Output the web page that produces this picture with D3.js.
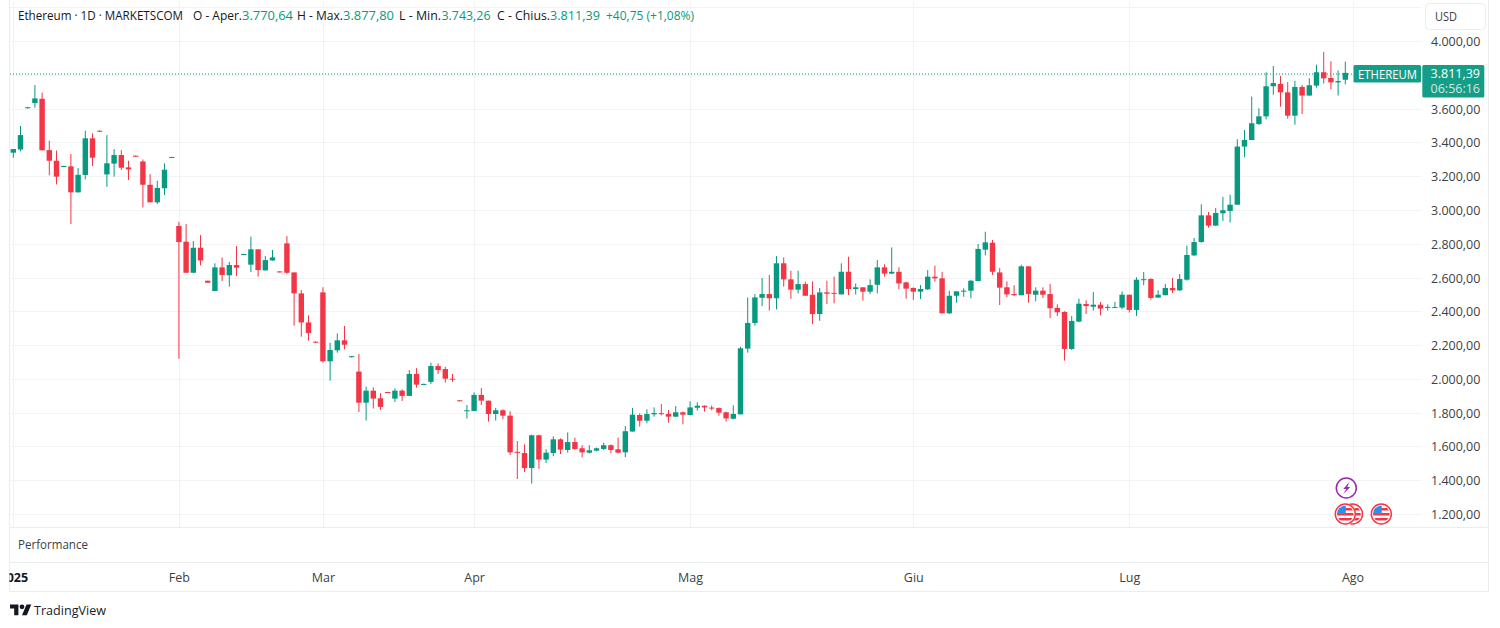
<!DOCTYPE html>
<html><head><meta charset="utf-8">
<script src="https://cdn.jsdelivr.net/npm/d3@7"></script>
<style>
html,body{margin:0;padding:0;background:#fff;overflow:hidden}
svg{display:block}
text{font-family:"Open Sans","Noto Sans",sans-serif}
</style></head><body><svg id="c" width="1500" height="628"></svg>
<script>
const opens=[3339,3358,3602,3633,3658,3354,3291,3256,3258,3104,3207,3424,3469,3210,3274,3325,3252,3321,3287,3149,3045,3128,3313,
2905,2812,2628,2776,2581,2520,2660,2613,2674,2735,2676,2767,2642,2701,2636,2802,2630,2506,2334,2220,2512,2104,2169,2228,2128,
2043,1859,1930,1885,1922,1883,1930,1899,2029,1966,1982,2076,2058,2001,1873,1810,1810,1905,1871,1792,1814,1782,1568,1561,1472,1666,1522,1561,1642,1579,1626,1589,1563,1575,1585,1607,1583,1565,1688,
1786,1752,1790,1797,1792,1776,1802,1786,1829,1841,1830,1827,1802,1764,1790,2179,2331,2480,2502,2477,2684,2589,2528,2561,2498,2384,2512,2509,2500,2634,2532,2542,2516,2557,2660,2623,2634,2571,2538,2516,2530,2605,2595,2388,2492,2516,2522,2579,2765,2806,2630,
2542,2502,2495,2666,2498,2522,2502,2420,2396,2177,2339,2443,2427,2439,2424,2422,2422,2498,2408,2588,2591,2481,2495,2538,2524,2587,2731,2810,2968,2907,2980,2994,3031,3375,3414,3509,3554,3732,3746,3696,3558,3728,3677,3736,3815,3781,3755,3770.64];
const highs=[3360,3497,3610,3739,3694,3410,3351,3262,3331,3248,3469,3453,3471,3443,3360,3354,3291,3323,3299,3212,3173,3276,3315,
2930,2916,2816,2851,2581,2684,2719,2692,2786,2741,2842,2767,2727,2763,2638,2845,2630,2526,2376,2222,2542,2214,2269,2313,2136,
2147,1954,1950,1915,1924,1944,1938,2052,2063,1972,2096,2092,2072,2029,1875,1845,1920,1946,1871,1828,1820,1808,1632,1612,1670,1670,1583,1660,1648,1683,1652,1607,1607,1593,1622,1612,1652,1721,1828,
1796,1820,1831,1851,1816,1839,1806,1867,1861,1843,1843,1831,1806,1843,2190,2482,2502,2597,2615,2727,2719,2640,2640,2575,2577,2538,2581,2605,2684,2723,2565,2542,2589,2703,2678,2778,2660,2575,2542,2555,2644,2670,2634,2522,2518,2536,2585,2798,2871,2822,2656,
2577,2554,2676,2666,2542,2542,2562,2441,2400,2372,2475,2465,2514,2455,2441,2455,2518,2498,2601,2633,2595,2524,2562,2597,2621,2789,2834,3033,2988,3011,3077,3090,3418,3473,3671,3602,3815,3852,3793,3757,3765,3740,3779,3860,3935,3880,3826,3877.80];
const lows=[3309,3347,3600,3605,3353,3205,3151,3254,2916,3104,3181,3260,3463,3137,3197,3236,3177,3315,3015,3045,3035,3088,3307,
2119,2628,2628,2672,2569,2520,2579,2546,2609,2733,2632,2605,2642,2699,2630,2620,2315,2250,2226,2214,2096,1989,2155,2175,2126,
1804,1753,1824,1816,1916,1863,1869,1899,1948,1964,1970,2029,1978,1982,1867,1765,1810,1845,1747,1753,1761,1549,1407,1448,1380,1467,1502,1542,1555,1563,1579,1536,1559,1571,1579,1559,1559,1536,1688,
1717,1737,1776,1784,1741,1776,1731,1784,1812,1806,1814,1782,1747,1760,1790,2155,2315,2431,2404,2411,2546,2475,2506,2490,2325,2344,2443,2447,2500,2496,2500,2463,2502,2506,2605,2621,2530,2475,2467,2473,2526,2575,2388,2384,2451,2486,2477,2579,2731,2615,2437,
2483,2491,2495,2451,2459,2479,2360,2372,2108,2171,2335,2384,2404,2376,2404,2421,2412,2392,2372,2554,2469,2481,2495,2508,2520,2581,2727,2806,2895,2907,2935,2925,3031,3312,3414,3503,3536,3682,3611,3540,3505,3568,3677,3724,3748,3714,3677,3743.26];
const closes=[3360,3443,3608,3660,3353,3291,3197,3260,3104,3208,3424,3309,3465,3276,3325,3250,3240,3317,3149,3045,3130,3238,3309,
2810,2628,2776,2701,2569,2660,2615,2674,2658,2739,2767,2644,2703,2719,2632,2628,2506,2334,2271,2216,2104,2171,2228,2202,2134,
1859,1930,1883,1834,1918,1930,1899,2029,1966,1970,2076,2052,2001,1999,1869,1814,1905,1871,1792,1814,1782,1565,1566,1472,1666,1522,1563,1642,1581,1626,1585,1565,1577,1589,1607,1579,1563,1690,1788,
1752,1792,1798,1795,1776,1802,1788,1831,1841,1831,1828,1800,1766,1792,2181,2331,2482,2502,2477,2684,2589,2528,2561,2492,2384,2512,2504,2507,2634,2532,2542,2516,2555,2660,2623,2634,2565,2534,2516,2532,2605,2595,2388,2492,2518,2522,2581,2769,2808,2634,2540,
2500,2495,2666,2502,2522,2498,2418,2394,2177,2343,2445,2431,2439,2416,2426,2425,2498,2408,2587,2590,2479,2498,2538,2524,2591,2733,2810,2968,2907,2982,2998,3031,3375,3414,3513,3554,3732,3751,3696,3558,3728,3677,3738,3815,3779,3755,3763,3811.39];

const priceTicks=[1200,1400,1600,1800,2000,2200,2400,2600,2800,3000,3200,3400,3600,3800,4000,4200];
const priceLabels=[1200,1400,1600,1800,2000,2200,2400,2600,2800,3000,3200,3400,3600,4000];
const timeIdx=[0,23,43,64,94,125,155,186];
const timeLabels=["2025","Feb","Mar","Apr","Mag","Giu","Lug","Ago"];
const lastClose=3811.39, countdown="06:56:16", instrument="ETHEREUM";
const eventIdx=[190,186,185];
const lightningIdx=[185];

const W=1500,H=628;
const svg=d3.select("#c");
const x=d3.scaleLinear().domain([0,186]).range([13.3,1352.5]);
const y=d3.scaleLinear().domain([1200,4000]).range([514,41]);
const loc=d3.formatLocale({decimal:",",thousands:".",grouping:[3],currency:["",""]});
const fmt=loc.format(",.2f");
const GREEN="#089981",RED="#f23645",GRID="#f3f3f4",BORDER="#ebecee",TXT="#131722",AX="#3d3f45";
const L=9.5,AXL=1421.5,R=1488.5,PB=527.5,TT=562.5,TB=591.5;

svg.append("rect").attr("width",W).attr("height",H).attr("fill","#fff");
const defs=svg.append("defs");
defs.append("clipPath").attr("id","plot").append("rect").attr("x",L).attr("y",1).attr("width",AXL-L).attr("height",PB-1);
defs.append("clipPath").attr("id","tim").append("rect").attr("x",L).attr("y",TT).attr("width",R-L).attr("height",TB-TT);

// grid
const grid=svg.append("g").attr("clip-path","url(#plot)");
grid.selectAll(".h").data(priceTicks).join("line").attr("x1",L).attr("x2",AXL)
 .attr("y1",d=>Math.round(y(d))+.5).attr("y2",d=>Math.round(y(d))+.5).attr("stroke",GRID);
grid.selectAll(".v").data(timeIdx).join("line").attr("y1",1).attr("y2",PB)
 .attr("x1",d=>Math.round(x(d))+.5).attr("x2",d=>Math.round(x(d))+.5).attr("stroke",GRID);

// frame
const fr=svg.append("g").attr("stroke",BORDER).attr("fill","none");
[[L,0,L,TB],[R,0,R,TB],[L,PB,R,PB],[L,TT,R,TT],[L,TB,R,TB]].forEach(l=>
 fr.append("line").attr("x1",l[0]).attr("y1",l[1]).attr("x2",l[2]).attr("y2",l[3]));

// price line
svg.append("line").attr("x1",10).attr("x2",1353).attr("y1",74).attr("y2",74)
 .attr("stroke",GREEN).attr("stroke-width",1.4).attr("stroke-dasharray","1 2").attr("stroke-opacity",.7);

// candles
const n=opens.length;
const c=svg.append("g").attr("clip-path","url(#plot)").selectAll("g").data(d3.range(n)).join("g")
 .attr("fill",i=>closes[i]>=opens[i]?GREEN:RED);
c.append("rect").attr("x",i=>x(i)-.5).attr("width",1)
 .attr("y",i=>y(highs[i])).attr("height",i=>y(lows[i])-y(highs[i]));
c.append("rect").attr("x",i=>x(i)-2.7).attr("width",5.4)
 .attr("y",i=>y(Math.max(opens[i],closes[i])))
 .attr("height",i=>Math.max(1,Math.abs(y(opens[i])-y(closes[i]))));

// y axis
const yAxis=d3.axisRight(y).tickValues(priceLabels).tickFormat(d=>fmt(d)).tickSize(0).tickPadding(0);
const yg=svg.append("g").attr("transform","translate(1431,0)").call(yAxis);
yg.select(".domain").remove();
yg.selectAll("text").attr("fill",AX).style("font-size","12.5px").attr("dy","0.36em");

// x axis
const xAxis=d3.axisBottom(x).tickValues(timeIdx).tickFormat((d,i)=>timeLabels[i]).tickSize(0).tickPadding(0);
const xg=svg.append("g").attr("clip-path","url(#tim)");
const xgi=xg.append("g").attr("transform","translate(0,581.5)").call(xAxis);
xgi.select(".domain").remove();
xgi.selectAll("text").attr("dy",0).attr("fill",AX).style("font-size","12.5px");
xgi.selectAll("text").filter((d,i)=>i===0).style("font-weight","700").attr("fill",TXT);

// header
const hp=[["Ethereum · 1D · MARKETSCOM",18,165,TXT],["O - Aper.",193,49,TXT],["3.770,64",242,51,GREEN],["H - Max.",297,46,TXT],["3.877,80",343,51,GREEN],["L - Min.",399,42,TXT],["3.743,26",441.5,49,GREEN],["C - Chius.",497,53,TXT],["3.811,39",550,50,GREEN],["+40,75 (+1,08%)",606,88,GREEN]];
svg.append("g").selectAll("text").data(hp).join("text").text(d=>d[0]).attr("x",d=>d[1]).attr("y",20)
 .attr("textLength",d=>d[2]).attr("lengthAdjust","spacingAndGlyphs").attr("fill",d=>d[3]).style("font-size","12.5px");

svg.append("text").attr("x",18).attr("y",548.5).text("Performance").attr("textLength",70).attr("lengthAdjust","spacingAndGlyphs").style("font-size","13px").attr("fill",AX);

// USD button
svg.append("rect").attr("x",1425.5).attr("y",3.5).attr("width",60).attr("height",26).attr("rx",4).attr("fill","#fff").attr("stroke",BORDER);
svg.append("text").attr("x",1435).attr("y",20.5).text("USD").attr("textLength",22).attr("lengthAdjust","spacingAndGlyphs").style("font-size","12.5px").attr("fill",AX);

// badges
svg.append("rect").attr("x",1353.5).attr("y",65).attr("width",67.5).attr("height",17.5).attr("rx",1.5).attr("fill",GREEN).attr("fill-opacity",.95);
svg.append("text").attr("x",1358).attr("y",79).text(instrument).attr("textLength",59).attr("lengthAdjust","spacingAndGlyphs").style("font-size","12.5px").attr("fill","#fff");
svg.append("rect").attr("x",1422.3).attr("y",65).attr("width",62).attr("height",32.5).attr("rx",1.5).attr("fill",GREEN).attr("fill-opacity",.95);
svg.append("text").attr("x",1480).attr("y",77.5).attr("text-anchor","end").text(fmt(lastClose)).style("font-size","12.5px").attr("fill","#fff");
svg.append("text").attr("x",1480).attr("y",92.5).attr("text-anchor","end").text(countdown).style("font-size","12.5px").attr("fill","#cfe9e3");

// events
const ev=svg.append("g");
lightningIdx.forEach(idx=>{
 ev.append("circle").attr("cx",x(idx)+1).attr("cy",488).attr("r",10).attr("fill","#fff").attr("stroke","#9c27b0").attr("stroke-width",1.5);
 ev.append("path").attr("transform",`translate(${x(idx)+1},488)`).attr("d","M3 -6 L-3 1 L0 1 L-3 6 L4 -1 L1 -1 Z").attr("fill","#9c27b0");
});
eventIdx.forEach((idx,k)=>{
 const g=ev.append("g").attr("transform",`translate(${x(idx)},514)`);
 const id="fl"+k;
 defs.append("clipPath").attr("id",id).append("circle").attr("r",8.3);
 g.append("circle").attr("r",10.8).attr("fill","#fff");
 const f=g.append("g").attr("clip-path",`url(#${id})`);
 f.append("rect").attr("x",-9).attr("y",-9).attr("width",18).attr("height",18).attr("fill","#fff");
 [-6,-1,4].forEach(s=>f.append("rect").attr("x",-9).attr("y",s).attr("width",18).attr("height",2.5).attr("fill",RED));
 f.append("rect").attr("x",-9).attr("y",-9).attr("width",9.5).attr("height",9).attr("fill","#2e8ef0");
 g.append("circle").attr("r",10).attr("fill","none").attr("stroke",RED).attr("stroke-width",1.5);
});

// logo
const logo=svg.append("g").attr("transform","translate(10,602) scale(0.6)").attr("fill","#131722");
logo.append("path").attr("d","M14 22H7V11H0V4h14v18zM28 22h-8l7.5-18h8L28 22z");
logo.append("circle").attr("cx",20).attr("cy",8).attr("r",4);
svg.append("text").attr("x",34).attr("y",615).text("TradingView").attr("textLength",72).attr("lengthAdjust","spacingAndGlyphs").style("font-size","13.5px").attr("fill","#1a1d26");
</script></body></html>
